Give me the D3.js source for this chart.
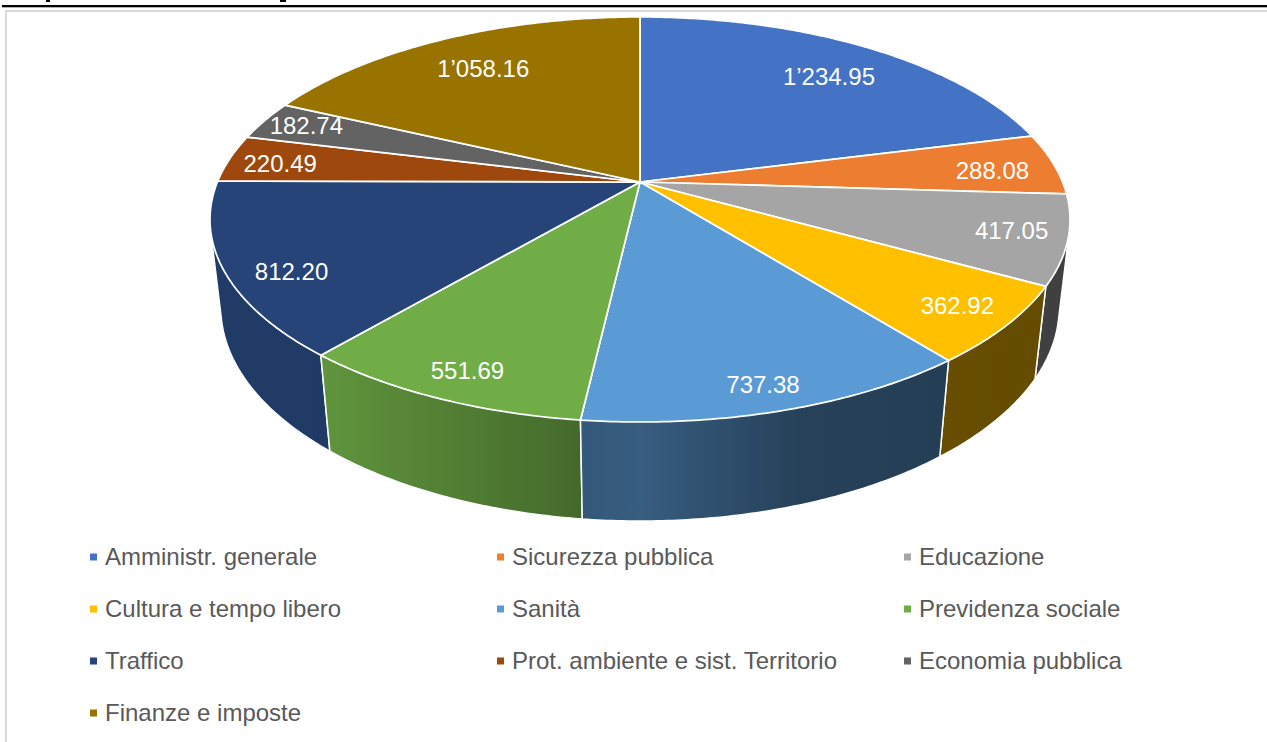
<!DOCTYPE html>
<html>
<head>
<meta charset="utf-8">
<script src="https://cdn.jsdelivr.net/npm/d3@7"></script>
<style>
    html, body { margin: 0; padding: 0; background: #fff; overflow: hidden; }
    svg { display: block; }
    text { font-family: "Liberation Sans", Arial, sans-serif; }
</style>
</head>
<body>
<svg class="chart" width="1267" height="742"></svg>
<script>
const categories = [
    "Amministr. generale", "Sicurezza pubblica", "Educazione",
    "Cultura e tempo libero", "Sanità", "Previdenza sociale",
    "Traffico", "Prot. ambiente e sist. Territorio", "Economia pubblica",
    "Finanze e imposte"
];
const values = [1234.95, 288.08, 417.05, 362.92, 737.38, 551.69, 812.20, 220.49, 182.74, 1058.16];
const colors = ["#4472c4", "#ed7d31", "#a5a5a5", "#ffc000", "#5b9bd5", "#70ad47", "#264478", "#9e480e", "#636363", "#997300"];

// label placement: radius on the disc, the big slices sit further in
const labelRadius = [.8, .85, .87, .88, .9, .88, .85, .88, .88, .78];
const labelDx = [3, 0, 2, 0, -2, 2, 1, 2, -1, 1];
const labelDy = [5, 4, -1, -1, 1, 3, 15, 2, -2, 1];

const w = 1267, h = 742;
const svg = d3.select('.chart');
const defs = svg.append('defs');

// perspective of the disc, worked out from the rim of the picture
const cx = 640, cy = 182;
const persp = { a: 422.6, b: 195.6, depth: 89.2, k: .185, m: .025 };

function project(angle, r, down) {
    const u = Math.sin(angle) * r, v = Math.cos(angle) * r;
    const d = 1 + persp.k * v + persp.m * down;
    return [
        cx + persp.a * u / d,
        cy + (-persp.b * v + persp.depth * down) / d
    ];
}

const pie = d3.pie().sort(null).value(d => d);
const arcs = pie(values).map((d, i) => ({ ...d, i }));

function rim(a0, a1, down) {
    const n = Math.max(2, Math.ceil((a1 - a0) / 0.01));
    return d3.range(n + 1).map(j => project(a0 + (a1 - a0) * j / n, 1, down));
}

const line = d3.line();

// the title is cropped off the top, only two descender tips are left of it
svg.append('g')
    .attr('fill', '#000')
    .selectAll('rect')
    .data([[46, 4], [280, 6]])
    .join('rect')
    .attr('x', d => d[0])
    .attr('y', 0)
    .attr('width', d => d[1])
    .attr('height', 2);

// frame and the rule above it
svg.append('rect').attr('x', 2).attr('y', 5).attr('width', w - 2).attr('height', 2.3).attr('fill', '#000');
svg.append('path')
    .attr('d', `M6,${h} V11 H${w}`)
    .attr('fill', 'none')
    .attr('stroke', '#d9d9d9')
    .attr('stroke-width', 2);

// side light goes from left to right, dark after the front of the pie
const light = d3.scaleLinear()
    .domain([210, 330, 575, 585, 640, 800, 1070])
    .range([.86, .85, .62, .57, .6, .42, .39])
    .clamp(true);

arcs.forEach(d => {
    const grad = defs.append('linearGradient')
        .attr('id', 'wall' + d.i)
        .attr('gradientUnits', 'userSpaceOnUse')
        .attr('x1', 210).attr('x2', 1070).attr('y1', 0).attr('y2', 0);
    light.domain().forEach(x => {
        const c = d3.rgb(colors[d.i]);
        const f = light(x);
        grad.append('stop')
            .attr('offset', (x - 210) / 860)
            .attr('stop-color', d3.rgb(c.r * f, c.g * f, c.b * f).formatHex());
    });
});

const midV = d => Math.cos((d.startAngle + d.endAngle) / 2);

// hull of both rims, so the wall also fills out to the straight silhouette
svg.append('g').selectAll('path')
    .data(arcs.slice().sort((a, b) => midV(b) - midV(a)))
    .join('path')
    .attr('d', d => line(d3.polygonHull(rim(d.startAngle, d.endAngle, 0).concat(rim(d.startAngle, d.endAngle, 1)))) + 'Z')
    .attr('fill', d => `url(#wall${d.i})`)
    .attr('stroke', 'white')
    .attr('stroke-width', 1.5)
    .attr('stroke-linejoin', 'round');

svg.append('g').selectAll('path')
    .data(arcs)
    .join('path')
    .attr('d', d => line([[cx, cy]].concat(rim(d.startAngle, d.endAngle, 0))) + 'Z')
    .attr('fill', d => colors[d.i])
    .attr('stroke', 'white')
    .attr('stroke-width', 1.75)
    .attr('stroke-linejoin', 'round');

const fmt = d3.formatLocale({ decimal: '.', thousands: '’', grouping: [3], currency: ['', ''] }).format(',.2f');

svg.append('g').selectAll('text')
    .data(arcs)
    .join('text')
    .attr('x', d => project((d.startAngle + d.endAngle) / 2, labelRadius[d.i], 0)[0] + labelDx[d.i])
    .attr('y', d => project((d.startAngle + d.endAngle) / 2, labelRadius[d.i], 0)[1] + labelDy[d.i])
    .attr('dy', '.35em')
    .attr('text-anchor', 'middle')
    .attr('font-size', 24)
    .attr('fill', 'white')
    .text(d => fmt(d.value));

// legend, three columns
const legendX = d3.scalePoint().domain([0, 1, 2]).range([90, 904]);
const legendY = d3.scalePoint().domain([0, 1, 2, 3]).range([557, 713]);

const legend = svg.append('g').selectAll('g')
    .data(categories)
    .join('g')
    .attr('transform', (d, i) => `translate(${legendX(i % 3)},${legendY(Math.floor(i / 3))})`);

legend.append('rect')
    .attr('y', -3.5)
    .attr('width', 7)
    .attr('height', 7)
    .attr('fill', (d, i) => colors[i]);

legend.append('text')
    .attr('x', 15)
    .attr('dy', '.35em')
    .attr('font-size', 24)
    .attr('fill', '#595959')
    .text(d => d);
</script>
</body>
</html>
